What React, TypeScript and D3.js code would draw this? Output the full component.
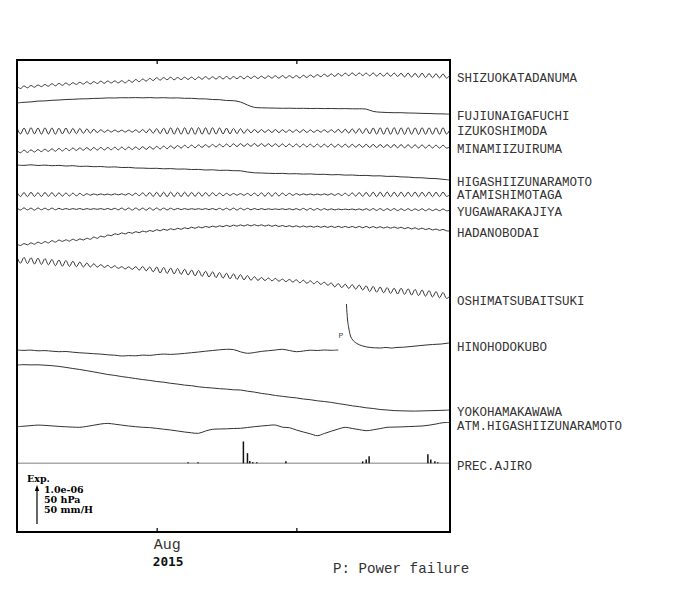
import React, { useEffect, useRef } from "react";
import * as d3 from "d3";

// levels are in trace units (0 = bottom of the panel, 472 = top)
const stationNames = [
  "SHIZUOKATADANUMA",
  "FUJIUNAIGAFUCHI",
  "IZUKOSHIMODA",
  "MINAMIIZUIRUMA",
  "HIGASHIIZUNARAMOTO",
  "ATAMISHIMOTAGA",
  "YUGAWARAKAJIYA",
  "HADANOBODAI",
  "OSHIMATSUBAITSUKI",
  "HINOHODOKUBO",
  "YOKOHAMAKAWAWA",
  "ATM.HIGASHIIZUNARAMOTO",
  "PREC.AJIRO",
];
const labelLevels = [454, 416, 401, 383, 350, 337, 320, 299, 231, 185, 120, 106, 66];

// 6-hourly samples, from 2015-07-22 00:00
const shizuokaTadanuma = [
  445.7, 443.5, 446.0, 444.2, 446.5, 444.8, 447.0, 445.4, 447.5, 445.8,
  448.3, 446.2, 448.6, 446.7, 449.0, 447.0, 449.3, 447.6, 449.7, 447.9,
  450.2, 448.1, 450.4, 448.5, 450.8, 448.7, 451.0, 449.0, 451.1, 449.1,
  451.3, 449.1, 451.8, 449.7, 452.5, 450.3, 453.0, 450.9, 453.6, 451.5,
  454.3, 451.9, 454.4, 452.3, 454.7, 452.2, 454.5, 452.4, 454.8, 452.6,
  454.9, 452.4, 455.0, 452.8, 455.3, 452.9, 455.2, 453.0, 455.4, 453.1,
  455.5, 453.0, 455.4, 453.3, 455.6, 453.2, 455.8, 453.6, 455.9, 453.5,
  455.8, 453.7, 456.1, 453.9, 456.2, 453.8, 456.4, 454.0, 456.3, 454.1,
  456.4, 454.0, 456.7, 454.5, 457.1, 454.8, 457.4, 455.3, 457.8, 455.5,
  458.1, 455.6, 458.5, 456.0, 458.9, 456.3, 459.1, 456.4, 459.0, 456.5,
  458.9, 456.2, 459.0, 455.9, 458.7, 455.8, 459.0, 455.7, 458.9, 455.6,
  458.7, 455.1, 458.9, 454.9, 458.6, 454.6, 458.8, 454.5, 458.5, 454.3,
  458.2, 454.1, 458.0, 453.9, 456.8,
];
const izuKoshimoda = [
  404.2, 398.0, 403.9, 397.8, 404.3, 398.1, 404.0, 397.9, 404.1, 398.0,
  404.0, 397.8, 403.8, 398.1, 404.0, 398.2, 403.6, 398.3, 403.5, 398.6,
  403.1, 398.9, 402.7, 399.4, 402.3, 399.7, 401.9, 400.0, 401.9, 400.1,
  401.8, 400.0, 401.9, 400.0, 402.1, 399.7, 402.4, 399.3, 402.9, 398.8,
  403.4, 398.3, 403.9, 398.0, 404.2, 397.8, 404.1, 397.7, 404.3, 397.8,
  404.2, 397.6, 404.4, 397.8, 404.2, 397.6, 404.3, 397.9, 404.0, 398.0,
  403.9, 398.1, 403.6, 398.4, 403.3, 398.7, 402.8, 399.2, 402.5, 399.4,
  402.4, 399.6, 402.3, 399.5, 402.5, 399.4, 402.3, 399.7, 402.1, 399.8,
  402.2, 399.6, 402.4, 399.5, 402.1, 399.7, 401.9, 399.9, 402.1, 399.7,
  402.3, 399.5, 402.6, 399.3, 402.8, 399.0, 403.1, 398.8, 403.4, 398.5,
  403.7, 398.1, 404.0, 397.9, 404.2, 397.8, 404.3, 397.7, 404.4, 397.7,
  404.2, 397.6, 404.4, 397.8, 404.2, 397.6, 404.3, 397.7, 404.2, 397.8,
  404.3, 397.7, 404.3, 397.9, 402.5,
];
const minamiIzuIruma = [
  381.5, 379.2, 381.9, 379.6, 382.1, 380.0, 382.4, 380.4, 382.8, 380.6,
  383.2, 380.8, 383.5, 381.0, 383.7, 381.4, 384.0, 381.6, 384.1, 381.8,
  384.4, 381.7, 384.5, 381.9, 384.6, 382.0, 384.5, 382.2, 384.8, 382.1,
  384.9, 382.3, 385.0, 382.4, 385.1, 382.5, 385.3, 382.6, 385.4, 382.8,
  385.6, 383.0, 385.9, 383.3, 386.2, 383.6, 386.5, 383.9, 386.7, 384.2,
  386.9, 384.3, 387.1, 384.6, 387.4, 384.8, 387.6, 385.0, 387.8, 385.1,
  388.0, 385.2, 388.2, 385.4, 388.4, 385.6, 388.3, 385.7, 388.5, 385.6,
  388.4, 385.6, 388.3, 385.5, 388.2, 385.4, 388.1, 385.3, 388.0, 385.2,
  388.0, 385.0, 387.9, 385.1, 387.8, 385.0, 387.9, 384.9, 387.8, 385.0,
  387.9, 384.8, 387.7, 384.9, 387.8, 384.7, 387.7, 384.8, 387.6, 384.6,
  387.7, 384.5, 387.6, 384.4, 387.5, 384.5, 387.4, 384.3, 387.5, 384.2,
  387.4, 384.2, 387.3, 384.1, 387.2, 384.0, 387.1, 383.9, 387.0, 384.0,
  386.9, 383.8, 386.8, 383.9, 385.3,
];
const atamiShimotaga = [
  339.6, 335.5, 339.4, 335.4, 339.7, 335.6, 339.3, 335.5, 339.5, 335.7,
  339.4, 335.6, 339.2, 335.8, 339.0, 336.0, 338.9, 336.2, 338.6, 336.5,
  338.3, 336.8, 338.1, 337.0, 338.1, 337.1, 338.0, 337.0, 338.2, 337.1,
  338.2, 336.9, 338.5, 336.6, 338.8, 336.3, 339.2, 335.9, 339.5, 335.6,
  339.7, 335.4, 339.8, 335.3, 339.9, 335.5, 339.7, 335.4, 339.8, 335.6,
  339.6, 335.7, 339.7, 335.8, 339.5, 335.9, 339.3, 336.1, 339.0, 336.3,
  338.7, 336.6, 338.5, 336.8, 338.4, 336.7, 338.6, 336.4, 338.9, 336.1,
  339.2, 335.8, 339.4, 335.7, 339.3, 336.0, 339.0, 336.3, 338.7, 336.6,
  338.4, 336.9, 338.2, 337.0, 338.1, 337.0, 338.0, 337.0, 338.1, 336.9,
  338.3, 336.7, 338.5, 336.5, 338.8, 336.2, 339.1, 335.9, 339.4, 335.7,
  339.6, 335.5, 339.8, 335.3, 339.9, 335.3, 340.0, 335.3, 339.8, 335.4,
  339.9, 335.3, 339.8, 335.5, 339.9, 335.2, 339.8, 335.4, 340.0, 335.3,
  339.8, 335.4, 339.9, 335.6, 337.5,
];
const yugawaraKajiya = [
  324.0, 322.0, 324.1, 322.1, 323.9, 321.9, 324.0, 322.2, 323.8, 322.1,
  323.9, 322.2, 323.7, 322.4, 323.5, 322.5, 323.4, 322.6, 323.5, 322.4,
  323.4, 322.6, 323.3, 322.7, 323.4, 322.5, 323.5, 322.4, 323.7, 322.2,
  323.9, 322.1, 324.0, 321.9, 324.0, 322.0, 323.9, 321.9, 324.1, 321.9,
  324.0, 322.0, 323.9, 322.1, 323.8, 322.2, 323.6, 322.4, 323.4, 322.5,
  323.3, 322.6, 323.3, 322.5, 323.4, 322.4, 323.5, 322.2, 323.7, 322.1,
  323.8, 322.0, 323.9, 321.9, 323.8, 322.1, 323.7, 322.2, 323.5, 322.3,
  323.4, 322.4, 323.2, 322.5, 323.1, 322.5, 323.2, 322.4, 323.3, 322.2,
  323.4, 322.0, 323.6, 321.9, 323.6, 321.8, 323.5, 321.9, 323.4, 322.0,
  323.2, 322.1, 323.0, 322.3, 322.9, 322.3, 323.0, 322.1, 323.1, 321.9,
  323.3, 321.7, 323.4, 321.6, 323.4, 321.5, 323.3, 321.6, 323.4, 321.4,
  323.2, 321.5, 323.3, 321.4, 323.1, 321.5, 323.2, 321.3, 323.1, 321.4,
  322.9, 321.3, 323.0, 321.2, 322.0,
];
const hadanoBodai = [
  287.8, 286.5, 288.4, 287.2, 289.1, 287.8, 289.8, 288.5, 290.4, 289.1,
  291.3, 289.9, 291.9, 290.6, 292.2, 290.9, 292.8, 291.4, 293.1, 292.0,
  293.8, 292.7, 294.9, 293.7, 295.9, 295.0, 297.0, 296.3, 298.2, 297.4,
  299.1, 298.0, 299.7, 298.7, 300.3, 299.3, 300.9, 300.0, 301.5, 300.6,
  302.3, 301.2, 302.8, 301.7, 303.3, 302.2, 303.7, 302.7, 304.2, 303.3,
  304.8, 303.7, 305.2, 304.1, 305.6, 304.6, 305.9, 304.9, 306.2, 305.3,
  306.6, 305.5, 306.9, 305.8, 307.1, 306.0, 307.3, 306.1, 307.3, 306.1,
  307.2, 305.9, 307.0, 305.7, 306.8, 305.5, 306.5, 305.3, 306.3, 305.1,
  306.2, 304.9, 306.1, 304.9, 305.9, 304.8, 305.9, 304.7, 305.8, 304.6,
  305.8, 304.5, 305.7, 304.5, 305.6, 304.4, 305.6, 304.3, 305.6, 304.2,
  305.6, 304.1, 305.5, 304.0, 305.3, 303.9, 305.1, 303.8, 305.0, 303.7,
  304.8, 303.3, 304.5, 303.0, 304.2, 302.7, 303.9, 302.4, 303.5, 302.0,
  303.0, 301.6, 302.6, 301.2, 301.0,
];
const oshimaTsubaitsuki = [
  275.0, 268.8, 274.6, 268.4, 274.2, 268.0, 273.8, 267.6, 273.4, 267.2,
  272.5, 266.3, 272.0, 265.8, 271.5, 265.5, 270.8, 265.3, 270.0, 264.9,
  269.0, 265.0, 268.2, 264.8, 267.4, 264.6, 266.6, 264.2, 266.2, 263.6,
  265.3, 263.1, 265.2, 262.6, 265.3, 261.9, 265.5, 261.2, 265.0, 260.2,
  265.0, 259.0, 264.6, 258.6, 264.0, 258.1, 263.5, 257.6, 262.8, 257.0,
  262.0, 256.2, 261.6, 255.6, 260.8, 255.0, 260.2, 254.4, 259.5, 253.8,
  258.8, 253.2, 258.2, 252.6, 257.4, 252.2, 256.4, 251.8, 255.3, 251.6,
  254.5, 251.5, 254.0, 251.2, 253.5, 250.8, 252.9, 250.4, 252.5, 250.0,
  252.2, 249.2, 251.8, 248.7, 251.2, 248.2, 250.6, 247.6, 249.8, 246.8,
  249.0, 245.1, 248.4, 244.4, 247.8, 243.6, 247.3, 242.8, 247.0, 242.0,
  246.2, 240.4, 245.6, 239.8, 245.0, 239.2, 244.4, 238.6, 243.8, 238.0,
  243.8, 237.6, 243.2, 237.0, 242.6, 236.4, 242.0, 235.8, 241.4, 235.0,
  240.4, 234.2, 239.6, 233.6, 236.0,
];

// 12-hourly samples, from 2015-07-22 00:00
const fujiUnaigafuchi = [
  429.0, 429.7, 430.1, 430.9, 431.1, 431.7, 432.0, 432.5, 432.7, 433.1,
  433.2, 433.6, 433.7, 434.1, 434.0, 434.3, 434.2, 434.4, 434.2, 434.4,
  434.1, 434.3, 434.0, 434.1, 433.7, 433.7, 433.2, 433.1, 432.5, 432.3,
  431.5, 431.3, 430.0, 427.0, 424.6, 424.2, 424.0, 423.9, 423.7, 423.8,
  423.6, 423.7, 423.5, 423.6, 423.4, 423.5, 423.3, 423.4, 423.2, 423.2,
  422.9, 420.6, 419.8, 419.5, 419.3, 419.3, 419.0, 418.9, 418.6, 418.5,
  418.2, 418.1, 417.8,
];
const higashiIzuNaramoto = [
  367.0, 366.6, 367.2, 366.5, 366.9, 366.3, 366.6, 366.0, 366.3, 365.6,
  365.8, 365.3, 365.5, 364.9, 365.1, 364.5, 364.6, 364.0, 363.9, 363.6,
  363.7, 363.2, 363.4, 362.9, 363.0, 362.5, 362.6, 362.0, 362.2, 361.6,
  361.8, 361.3, 361.2, 360.0, 359.2, 359.0, 358.7, 358.5, 358.6, 358.2,
  358.3, 357.9, 358.1, 357.6, 357.7, 357.2, 357.4, 356.9, 357.0, 356.5,
  356.6, 356.1, 356.2, 355.6, 355.7, 355.1, 354.9, 354.3, 354.2, 353.6,
  353.4, 352.7, 352.0,
];
const hinoHodokubo = [
  182.0, 181.6, 181.9, 181.2, 181.4, 180.8, 180.3, 180.5, 179.8, 179.2,
  178.8, 178.3, 177.9, 177.2, 176.8, 176.0, 176.4, 176.2, 176.9, 176.6,
  177.4, 177.9, 177.6, 178.0, 178.6, 179.3, 180.0, 180.8, 181.5, 182.2,
  182.7, 182.4, 180.2, 178.7, 179.5, 180.6, 181.3, 182.0, 182.7, 181.5,
  180.3, 181.0, 181.8, 181.5, 182.0, 181.7, 182.0,
];
// after the power failure: hours from 2015-08-14 12:00
const hinoRecoveryHours = [2, 4, 6, 8.5, 13, 20, 30, 44, 50, 61, 70, 80, 87, 100, 113, 125, 139, 150, 165, 178];
const hinoRecovery = [228, 212, 204, 197, 192, 188.5, 186, 184.5, 184.2, 184, 184.6, 183.9, 184.5, 184.8, 185.5, 186.2, 187, 187.5, 188, 189];
const yokohamaKawawa = [
  167.0, 167.3, 167.1, 167.2, 166.8, 166.3, 165.6, 164.6, 163.5, 162.5,
  161.3, 160.1, 158.8, 157.5, 156.6, 155.4, 154.5, 153.4, 152.4, 151.6,
  150.5, 149.8, 148.7, 147.9, 146.9, 146.3, 145.2, 144.5, 144.0, 143.3,
  142.9, 142.2, 142.0, 140.8, 139.9, 138.6, 137.7, 136.5, 135.7, 134.8,
  134.1, 133.0, 132.3, 131.2, 130.5, 129.6, 128.4, 127.4, 126.2, 125.3,
  124.2, 123.5, 122.5, 122.0, 121.4, 121.2, 121.0, 120.9, 121.1, 121.3,
  121.5, 121.7, 122.0,
];
const atmHigashiIzuNaramoto = [
  105.3, 105.8, 106.4, 106.9, 106.6, 106.1, 105.6, 105.2, 104.9, 104.7,
  105.6, 106.8, 108.0, 108.6, 107.8, 106.9, 106.0, 105.3, 104.7, 104.4,
  103.6, 102.8, 102.0, 101.0, 100.0, 99.2, 98.7, 101.0, 102.7, 103.0,
  103.2, 103.5, 103.7, 104.5, 105.3, 106.0, 106.6, 107.0, 104.8, 104.3,
  102.0, 100.0, 98.2, 96.3, 98.5, 100.8, 103.0, 104.7, 103.5, 102.4,
  101.3, 102.2, 103.4, 104.7, 104.9, 105.1, 105.4, 105.7, 106.0, 106.8,
  108.0, 109.3, 109.5,
];

// hourly rain at Ajiro (mm/H)
const precTimes = [
  "2015-08-03 06:00", "2015-08-03 23:00", "2015-08-07 05:00", "2015-08-07 12:00",
  "2015-08-07 16:00", "2015-08-07 21:00", "2015-08-08 04:00", "2015-08-10 06:00",
  "2015-08-15 18:00", "2015-08-16 00:00", "2015-08-16 05:00", "2015-08-20 10:00",
  "2015-08-20 15:00", "2015-08-20 22:00", "2015-08-21 03:00",
];
const precMm = [1.3, 1.3, 28, 13, 3, 1.5, 1.3, 2.5, 2.5, 5, 9, 11.5, 5, 2.5, 1.3];
const precZeroLevel = 68.7;

const tickDates = ["2015-08-01", "2015-08-11"];

function App() {
  const ref = useRef<SVGSVGElement>(null);

  useEffect(() => {
    const svg = d3.select(ref.current);
    svg.selectAll("*").remove();

    const left = 17, right = 450, top = 60, bottom = 532;
    const start = new Date(2015, 6, 22);
    const end = new Date(2015, 7, 22);
    const x = d3.scaleTime().domain([start, end]).range([left, right]);
    const y = d3.scaleLinear().domain([0, 472]).range([bottom, top]);
    const arrowUnits = 39;
    const prec = d3.scaleLinear().domain([0, 50]).range([0, arrowUnits]);
    const parse = d3.timeParse("%Y-%m-%d %H:%M");
    const parseDay = d3.timeParse("%Y-%m-%d");

    const line = d3
      .line<[Date, number]>()
      .x(d => x(d[0]))
      .y(d => y(d[1]))
      .curve(d3.curveCatmullRom);

    const withStep = (vals: number[], hours: number, from = start) =>
      vals.map((v, i) => [d3.timeHour.offset(from, i * hours), v] as [Date, number]);

    const traces: [Date, number][][] = [
      withStep(shizuokaTadanuma, 6),
      withStep(fujiUnaigafuchi, 12),
      withStep(izuKoshimoda, 6),
      withStep(minamiIzuIruma, 6),
      withStep(higashiIzuNaramoto, 12),
      withStep(atamiShimotaga, 6),
      withStep(yugawaraKajiya, 6),
      withStep(hadanoBodai, 6),
      withStep(oshimaTsubaitsuki, 6),
      withStep(hinoHodokubo, 12),
      withStep(yokohamaKawawa, 12),
      withStep(atmHigashiIzuNaramoto, 12),
    ];

    svg.append("g")
      .selectAll("path")
      .data(traces)
      .join("path")
      .attr("d", d => line(d))
      .attr("fill", "none")
      .attr("stroke", "#333")
      .attr("stroke-width", 1);

    const failStart = new Date(2015, 7, 14, 12);
    const recovery = hinoRecoveryHours.map((h, i) => [d3.timeMinute.offset(failStart, h * 60), hinoRecovery[i]] as [Date, number]);
    svg.append("path")
      .attr("d", line.curve(d3.curveMonotoneX)(recovery))
      .attr("fill", "none")
      .attr("stroke", "#333")
      .attr("stroke-width", 1);

    svg.append("text")
      .attr("x", x(recovery[0][0]) - 8)
      .attr("y", y(hinoRecovery[0]) + 34)
      .attr("font-family", "Liberation Mono")
      .attr("font-size", 8)
      .attr("fill", "#444")
      .text("P");

    // precipitation
    svg.append("line")
      .attr("x1", left).attr("x2", right)
      .attr("y1", y(precZeroLevel)).attr("y2", y(precZeroLevel))
      .attr("stroke", "#aaa").attr("stroke-width", 1.5);
    svg.append("g")
      .selectAll("line")
      .data(precMm)
      .join("line")
      .attr("x1", (d, i) => x(parse(precTimes[i])!))
      .attr("x2", (d, i) => x(parse(precTimes[i])!))
      .attr("y1", y(precZeroLevel))
      .attr("y2", d => y(precZeroLevel + prec(d)))
      .attr("stroke", "#111")
      .attr("stroke-width", 1.5);

    // frame and ticks
    svg.append("rect")
      .attr("x", left).attr("y", top)
      .attr("width", right - left).attr("height", bottom - top)
      .attr("fill", "none").attr("stroke", "#000").attr("stroke-width", 2);
    const ticks = tickDates.map(s => parseDay(s)!);
    const axTop = svg.append("g").attr("transform", `translate(0,${top})`)
      .call(d3.axisBottom(x).tickValues(ticks).tickSize(4).tickFormat(() => ""));
    const axBot = svg.append("g").attr("transform", `translate(0,${bottom})`)
      .call(d3.axisTop(x).tickValues(ticks).tickSize(4).tickFormat(() => ""));
    [axTop, axBot].forEach(g => {
      g.select(".domain").remove();
      g.selectAll("line").attr("stroke", "#000").attr("stroke-width", 1.2);
    });

    svg.append("text")
      .attr("x", x(ticks[0]) - 3).attr("y", 549)
      .attr("font-family", "Liberation Mono").attr("font-size", 15).attr("fill", "#333")
      .text("Aug");
    svg.append("text")
      .attr("x", x(ticks[0]) - 4).attr("y", 565.5)
      .attr("font-family", "DejaVu Sans Mono").attr("font-weight", "bold").attr("font-size", 12.8).attr("fill", "#111")
      .text("2015");

    // station labels
    svg.append("g")
      .selectAll("text")
      .data(stationNames)
      .join("text")
      .attr("x", right + 7)
      .attr("y", (d, i) => y(labelLevels[i]))
      .attr("dy", "0.35em")
      .attr("font-family", "Liberation Mono")
      .attr("font-size", 12.5)
      .attr("fill", "#333")
      .text(d => d);

    // scale legend
    const lg = svg.append("g").attr("font-family", "DejaVu Serif").attr("font-weight", "bold").attr("font-size", 9.5).attr("fill", "#000");
    lg.append("text").attr("x", 27).attr("y", 481.5).text("Exp.");
    ["1.0e-06", "50 hPa", "50 mm/H"].forEach((t, i) => {
      lg.append("text").attr("x", 44).attr("y", 492.5 + i * 10).text(t);
    });
    const ax = 37, aBottom = 524;
    svg.append("line")
      .attr("x1", ax).attr("x2", ax)
      .attr("y1", aBottom).attr("y2", aBottom - arrowUnits + 4)
      .attr("stroke", "#000").attr("stroke-width", 1.2);
    svg.append("path")
      .attr("d", `M${ax},${aBottom - arrowUnits} L${ax - 2.2},${aBottom - arrowUnits + 6} L${ax + 2.2},${aBottom - arrowUnits + 6} Z`)
      .attr("fill", "#000");

    svg.append("text")
      .attr("x", 333).attr("y", 573)
      .attr("font-family", "Liberation Mono").attr("font-size", 14.2).attr("fill", "#333")
      .text("P: Power failure");
  }, []);

  return <svg ref={ref} width={700} height={590} style={{ position: "absolute", left: 0, top: 0, background: "#fff" }} />;
}

export default App;
